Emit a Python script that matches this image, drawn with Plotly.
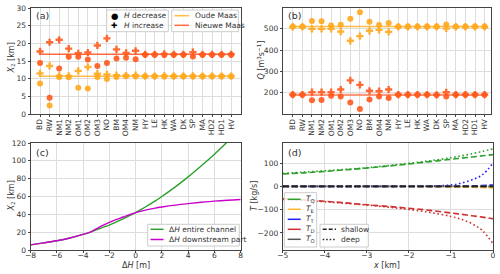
import plotly.graph_objects as go

# ---------------- data ----------------
categories = ["BD", "RW", "NM1", "NM2", "OM1", "OM2", "OM3", "NO", "BM", "OM4", "NM",
              "HY", "LE", "HK", "WA", "DK", "SP", "MA", "HD2", "HD1", "HV"]

# panel (a): X2 [km]
x2_oude_increase = [11.5, 13.6, 10.8, 10.8, 12.2, 13.3, 11.4, 11.2, 11.0, 10.9, 11.0,
                    10.7, 10.7, 10.8, 10.7, 10.7, 10.8, 10.7, 10.7, 10.7, 10.7]
x2_oude_decrease = [8.6, 2.4, 10.5, 10.4, 7.4, 7.2, 10.5, 9.9, 10.5, 10.7, 10.6,
                    10.7, 10.7, 10.6, 10.7, 10.7, 10.6, 10.7, 10.7, 10.7, 10.7]
x2_nieuwe_increase = [17.7, 20.3, 21.0, 18.5, 17.2, 17.4, 19.4, 21.4, 18.3, 17.3, 17.9,
                      16.9, 16.9, 17.0, 16.9, 16.9, 17.5, 16.9, 16.9, 16.9, 16.9]
x2_nieuwe_decrease = [14.4, 4.6, 12.9, 16.2, 16.2, 15.4, 13.6, 14.4, 15.7, 15.9, 15.5,
                      16.8, 16.8, 16.7, 16.8, 16.8, 16.3, 16.8, 16.8, 16.8, 16.8]
x2_oude_ref = 10.7
x2_nieuwe_ref = 16.9

# panel (b): Q [m3/s]
q_oude_a = [511, 511, 537, 536, 516, 519, 548, 578, 533, 518, 527,
            511, 511, 511, 511, 511, 520, 511, 511, 511, 511]
q_oude_b = [509, 509, 500, 500, 500, 487, 444, 466, 491, 495, 486,
            509, 509, 509, 509, 509, 502, 509, 509, 509, 509]
q_nieuwe_a = [191, 191, 203, 203, 203, 215, 258, 237, 209, 207, 215,
              191, 191, 191, 191, 190, 202, 191, 191, 191, 191]
q_nieuwe_b = [190, 190, 165, 166, 186, 182, 154, 124, 168, 182, 175,
              190, 190, 190, 190, 189, 182, 190, 190, 190, 190]
q_oude_ref = 511
q_nieuwe_ref = 190

# panel (c): X2 vs dH
dh_entire = [-8, -7, -6, -5, -4, -3.5, -3, -2.5, -2, -1.5, -1, -0.5, 0, 0.5, 1, 1.5, 2,
             3, 4, 5, 6, 7, 7.5]
x2_entire = [5.8, 8.0, 10.4, 13.5, 17.5, 19.8, 22.6, 25.3, 28.0, 31.2, 34.6, 38.2, 42.0,
             46.0, 50.5, 55.0, 60.0, 70.5, 82.0, 94.5, 107.5, 121.5, 129.0]
dh_down = [-8, -7, -6, -5, -4, -3.5, -3, -2.5, -2, -1.5, -1, -0.5, 0, 0.5, 1, 1.5, 2,
           3, 4, 5, 6, 7, 8]
x2_down = [5.8, 8.0, 10.4, 13.5, 17.5, 19.8, 23.6, 27.6, 31.0, 34.0, 36.7, 39.4, 42.0,
           43.8, 45.5, 47.0, 48.2, 50.3, 52.0, 53.5, 54.8, 55.8, 56.6]

# panel (d): transports T [kg/s] vs x [km]
xd = [-5, -4.5, -4, -3.5, -3, -2.5, -2, -1.5, -1, -0.75, -0.5, -0.25, 0]
tq_shallow = [53, 58, 64, 71, 78.5, 87, 96, 106, 116, 121, 126, 131, 136]
tq_deep = [56, 61, 67, 73, 80, 89, 99, 110, 123, 131, 140, 150, 161]
te_shallow = [0, 0, 0, 0, 0, -0.5, -0.5, -1, -2, -3, -4, -5, -7]
te_deep = [0, 0, 0, 0, 0, 0, 0, -0.5, -1, -1.5, -2.5, -3.5, -5]
tt_shallow = [0, 0, 0, 0, 0, 0, 0, 0, 0.5, 1, 2, 3.5, 6]
tt_deep = [0, 0, 0, 0, 0, 0, 0.5, 1.5, 6, 14, 28, 50, 100]
td_shallow = [-53, -58, -64, -71, -79, -86, -94, -103, -114, -120, -126, -132, -139]
td_deep = [-56, -61, -66, -73, -80, -89, -99, -112, -129, -142, -160, -190, -246]
to_shallow = [0, 0, 0, 0, 0, 0, 0, 0, 0, 0, 0, 0, 0]
to_deep = [0, 0, 0, 0, 0, 0, 0, 0, 0, 0, 0, 0, 0]

# ---------------- styling ----------------
W, H = 500, 274
FONT = "DejaVu Sans"
TXT = "#333333"
GRID = "#dddddd"
FRAME = "#444444"
ORANGE = "#FFA81E"
ORANGE_LINE = "rgba(255,176,40,0.85)"
RED = "#FF5A1E"
RED_LINE = "rgba(255,80,30,0.85)"
GREEN = "#2ca02c"
MAGENTA = "#CC00CC"
C_Q, C_E, C_T, C_D, C_O = "#2ca02c", "#FFB52E", "#1f1fff", "#d03030", "#555555"
DASH = "6px,3px"
DOT = "1.6px,2.6px"


def px(x):
    return x / W


def py(y):
    return 1 - y / H


fig = go.Figure()

# ----- panel (a) -----
fig.add_trace(go.Scatter(x=[categories[0], categories[-1]], y=[x2_oude_ref] * 2, mode="lines",
                         line=dict(color=ORANGE_LINE, width=1.5), xaxis="x", yaxis="y", showlegend=False))
fig.add_trace(go.Scatter(x=[categories[0], categories[-1]], y=[x2_nieuwe_ref] * 2, mode="lines",
                         line=dict(color=RED_LINE, width=1.5), xaxis="x", yaxis="y", showlegend=False))
for yv, col, sym in [(x2_oude_decrease, ORANGE, "circle"), (x2_oude_increase, ORANGE, "cross"),
                     (x2_nieuwe_decrease, RED, "circle"), (x2_nieuwe_increase, RED, "cross")]:
    fig.add_trace(go.Scatter(x=categories, y=yv, mode="markers",
                             marker=dict(color=col, symbol=sym, size=6,
                                         opacity=0.9, line=dict(width=0)),
                             xaxis="x", yaxis="y", showlegend=False))

# ----- panel (b) -----
fig.add_trace(go.Scatter(x=[categories[0], categories[-1]], y=[q_oude_ref] * 2, mode="lines",
                         line=dict(color=ORANGE_LINE, width=1.5), xaxis="x2", yaxis="y2", showlegend=False))
fig.add_trace(go.Scatter(x=[categories[0], categories[-1]], y=[q_nieuwe_ref] * 2, mode="lines",
                         line=dict(color="rgba(255,110,70,0.7)", width=2.2), xaxis="x2", yaxis="y2",
                         showlegend=False))
for yv, col, sym in [(q_oude_a, ORANGE, "circle"), (q_oude_b, ORANGE, "cross"),
                     (q_nieuwe_a, RED, "cross"), (q_nieuwe_b, RED, "circle")]:
    fig.add_trace(go.Scatter(x=categories, y=yv, mode="markers",
                             marker=dict(color=col, symbol=sym, size=6,
                                         opacity=0.9, line=dict(width=0)),
                             xaxis="x2", yaxis="y2", showlegend=False))

# ----- panel (c) -----
fig.add_trace(go.Scatter(x=dh_entire, y=x2_entire, mode="lines", line=dict(color=GREEN, width=1.4, shape="spline"),
                         xaxis="x3", yaxis="y3", showlegend=False))
fig.add_trace(go.Scatter(x=dh_down, y=x2_down, mode="lines", line=dict(color=MAGENTA, width=1.4, shape="spline"),
                         xaxis="x3", yaxis="y3", showlegend=False))

# ----- panel (d) -----
for ys, yd, col in [(tq_shallow, tq_deep, C_Q), (te_shallow, te_deep, C_E), (tt_shallow, tt_deep, C_T),
                    (td_shallow, td_deep, C_D), (to_shallow, to_deep, C_O)]:
    fig.add_trace(go.Scatter(x=xd, y=ys, mode="lines", line=dict(color=col, width=1.6, dash=DASH, shape="spline"),
                             xaxis="x4", yaxis="y4", showlegend=False))
    fig.add_trace(go.Scatter(x=xd, y=yd, mode="lines", line=dict(color=col, width=1.6, dash=DOT, shape="spline"),
                             xaxis="x4", yaxis="y4", showlegend=False))
# zero line of total drawn on top (black dashed)
fig.add_trace(go.Scatter(x=xd, y=to_shallow, mode="lines", line=dict(color="#222222", width=1.6, dash=DASH),
                         xaxis="x4", yaxis="y4", showlegend=False))

# ---------------- axes ----------------
common = dict(showgrid=True, gridcolor=GRID, gridwidth=0.8, zeroline=False, showline=True,
              linecolor=FRAME, linewidth=1, mirror=True, ticks="outside", ticklen=2,
              tickcolor=FRAME, tickfont=dict(family=FONT, size=7.5, color=TXT), automargin=False)
cat = dict(type="category", categoryorder="array", categoryarray=categories, tickangle=-90,
           ticklabelstandoff=-1)
xnum = dict(ticklabelstandoff=-4)

fig.update_layout(
    xaxis=dict(common, **cat, domain=[px(30.5), px(240.7)], anchor="y", range=[-1, 21]),
    yaxis=dict(common, domain=[py(114), py(8)], anchor="x", range=[0, 30], tickvals=[0, 5, 10, 15, 20, 25, 30]),
    xaxis2=dict(common, **cat, domain=[px(282.7), px(491.3)], anchor="y2", range=[-1.05, 20.7]),
    yaxis2=dict(common, domain=[py(114), py(8)], anchor="x2", range=[100, 598], tickvals=[200, 300, 400, 500]),
    xaxis3=dict(common, **xnum, domain=[px(30.5), px(240.7)], anchor="y3", range=[-8, 8],
                tickvals=[-8, -6, -4, -2, 0, 2, 4, 6, 8]),
    yaxis3=dict(common, domain=[py(250), py(143)], anchor="x3", range=[0, 120],
                tickvals=[0, 20, 40, 60, 80, 100, 120]),
    xaxis4=dict(common, **xnum, domain=[px(282.7), px(493)], anchor="y4", range=[-5, 0],
                tickvals=[-5, -4, -3, -2, -1, 0]),
    yaxis4=dict(common, domain=[py(250), py(143)], anchor="x4", range=[-273, 186],
                tickvals=[-200, -100, 0, 100]),
)

# ---------------- annotations (titles, panel labels, legends) ----------------
ann = []
shapes = []


def text(x, y, s, size=7.5, angle=0, xanchor="center", yanchor="middle", color=TXT):
    ann.append(dict(x=px(x), y=py(y), xref="paper", yref="paper", text=s, showarrow=False,
                    font=dict(family=FONT, size=size, color=color), textangle=angle,
                    xanchor=xanchor, yanchor=yanchor))


# panel labels
text(33.5, 15.5, "(a)", size=9.5, xanchor="left")
text(285.5, 15.5, "(b)", size=9.5, xanchor="left")
text(33.5, 152, "(c)", size=9.5, xanchor="left")
text(285.5, 152, "(d)", size=9.5, xanchor="left")

# axis titles
text(11.5, 58, "<i>X</i><sub>2</sub> [km]", size=8, angle=-90)
text(260.5, 60, "<i>Q</i> [m<sup>3</sup>s<sup>−1</sup>]", size=8, angle=-90)
text(11.5, 196, "<i>X</i><sub>2</sub> [km]", size=8, angle=-90)
text(254, 196, "<i>T</i> [kg/s]", size=8, angle=-90)
text(136, 265, "Δ<i>H</i> [m]", size=8)
text(386, 265, "<i>x</i> [km]", size=8)


def legend_box(x0, y0, x1, y1):
    shapes.append(dict(type="rect", xref="paper", yref="paper", x0=px(x0), x1=px(x1), y0=py(y1), y1=py(y0),
                       line=dict(color="#cccccc", width=1), fillcolor="rgba(255,255,255,0.85)", layer="above"))


def legend_line(x0, x1, y, color, dash="solid", width=1.5):
    shapes.append(dict(type="line", xref="paper", yref="paper", x0=px(x0), x1=px(x1), y0=py(y), y1=py(y),
                       line=dict(color=color, width=width, dash=dash), layer="above"))


# legend (a) markers
legend_box(106.7, 10, 168.3, 31.7)
text(114.3, 15.7, "●", size=8.5, color="#000000")
text(114.3, 25.3, "✚", size=7.5, color="#000000")
text(122, 15.7, "<i>H</i> decrease", xanchor="left")
text(122, 25.3, "<i>H</i> increase", xanchor="left")
# legend (a) lines
legend_box(171.7, 10, 238.3, 31.7)
legend_line(174.5, 189, 15.7, ORANGE_LINE)
legend_line(174.5, 189, 25.3, RED_LINE)
text(193.3, 15.7, "Oude Maas", xanchor="left")
text(193.3, 25.3, "Nieuwe Maas", xanchor="left")

# legend (c)
legend_box(147.7, 224.3, 239.3, 246)
legend_line(150.5, 163.5, 229.3, GREEN)
legend_line(150.5, 163.5, 239.5, MAGENTA)
text(166.7, 229.3, "Δ<i>H</i> entire channel", xanchor="left")
text(166.7, 239.5, "Δ<i>H</i> downstream part", xanchor="left")

# legend (d) colours
legend_box(284.3, 192.7, 316.7, 247)
for i, (col, lab) in enumerate([(C_Q, "Q"), (C_E, "E"), (C_T, "T"), (C_D, "D"), (C_O, "O")]):
    yy = 199.3 + i * 10
    legend_line(287.7, 300.7, yy, col)
    text(304, yy, "<i>T</i><sub>" + lab + "</sub>", xanchor="left")
# legend (d) styles
legend_box(320, 224.3, 368.3, 247)
legend_line(322.7, 336, 229.3, "#222222", dash="4px,2px", width=1.6)
legend_line(322.7, 336, 239.5, "#222222", dash="1.5px,2px", width=1.6)
text(339.3, 229.3, "shallow", xanchor="left")
text(339.3, 239.5, "deep", xanchor="left")

fig.update_layout(
    width=W, height=H, margin=dict(l=0, r=0, t=0, b=0),
    paper_bgcolor="white", plot_bgcolor="white",
    font=dict(family=FONT, size=7.5, color=TXT),
    annotations=ann, shapes=shapes, showlegend=False,
)

fig.write_html("out.html", config={"displayModeBar": False},
               post_script="document.body.style.margin='0px';document.body.style.overflow='hidden';")
